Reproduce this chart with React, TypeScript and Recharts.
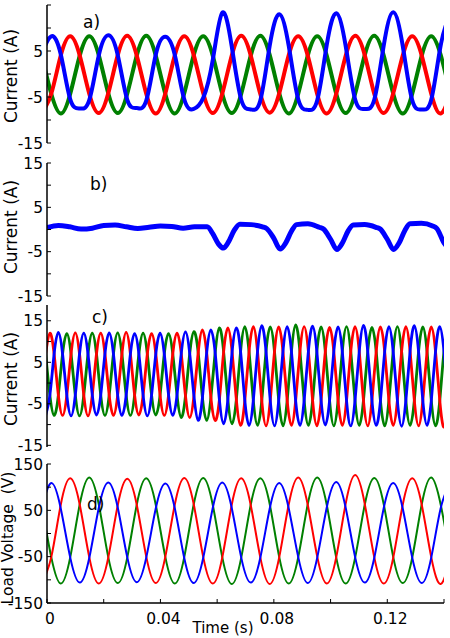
import React from 'react';
import { LineChart, Line, XAxis, YAxis } from 'recharts';

const FONT = '"DejaVu Sans", sans-serif';
const BLUE = '#0000ff';
const RED = '#ff0000';
const GREEN = '#008000';

// shared x axis
const xTicks = [0, 0.02, 0.04, 0.06, 0.08, 0.1, 0.12, 0.14];
const xLabelTicks = [0, 0.04, 0.08, 0.12];
const currentTicks = [-15, -10, -5, 0, 5, 10, 15];
const currentLabelsA = [-15, -5, 5];
const currentLabels = [-15, -5, 5, 15];
const voltageTicks = [-150, -100, -50, 0, 50, 100, 150];
const voltageLabels = [-150, -50, 50, 150];

// 50 Hz sample instants (panels a and d)
const time50 = [-0.00185, 0.0015, 0.00485, 0.0082, 0.01155, 0.0149, 0.01825, 0.0216, 0.02495, 0.0283, 0.03165, 0.035, 0.03835, 0.0417, 0.04505, 0.0484, 0.05175, 0.0551, 0.05845, 0.0618, 0.06515, 0.0685, 0.07185, 0.0752, 0.07855, 0.0819, 0.08525, 0.0886, 0.09195, 0.0953, 0.09865, 0.102, 0.10535, 0.1087, 0.11205, 0.1154, 0.11875, 0.1221, 0.12545, 0.1288, 0.13215, 0.1355, 0.13885, 0.1422];

// panel a currents (A)
const aBlue = [4.4, 8.2, 4.3, -5.5, -7.5, -5.7, 4.0, 8.4, 4.1, -5.6, -7.4, -5.8, 4.2, 8.1, 4.2, -5.5, -7.6, -5.2, 3.0, 13.3, 6.0, -5.6, -7.7, -5.8, 6.2, 13.0, 6.1, -5.5, -7.8, -5.7, 6.3, 13.2, 6.0, -5.6, -7.6, -5.6, 6.2, 13.4, 6.1, -5.7, -7.7, -5.6, 6.3, 13.1];
const aRed = [-8.5, -4.3, 4.0, 8.2, 4.0, -4.3, -8.5, -4.2, 4.1, 8.3, 4.0, -4.3, -8.6, -4.3, 4.0, 8.2, 4.1, -4.2, -8.5, -4.3, 4.0, 8.3, 4.0, -4.3, -8.4, -4.2, 4.1, 8.2, 4.0, -4.4, -8.6, -4.3, 4.0, 8.3, 4.1, -4.3, -8.5, -4.2, 4.0, 8.2, 4.0, -4.3, -8.6, -4.3];
const aGreen = [4.0, -4.3, -8.6, -4.3, 4.0, 8.2, 4.1, -4.2, -8.5, -4.3, 4.0, 8.3, 4.0, -4.3, -8.6, -4.2, 4.1, 8.2, 4.0, -4.3, -8.5, -4.3, 4.0, 8.3, 4.1, -4.2, -8.6, -4.3, 4.0, 8.2, 4.0, -4.3, -8.5, -4.2, 4.1, 8.3, 4.0, -4.3, -8.6, -4.3, 4.0, 8.2, 4.1, -4.2];

// panel b current (A)
const bTime = [0, 0.004, 0.008, 0.012, 0.016, 0.02, 0.024, 0.028, 0.032, 0.036, 0.04, 0.044, 0.048, 0.052, 0.0565, 0.0585, 0.0605, 0.0622, 0.064, 0.066, 0.068, 0.072, 0.076, 0.0775, 0.08, 0.0822, 0.0842, 0.0862, 0.088, 0.092, 0.096, 0.0975, 0.1, 0.1022, 0.1042, 0.1062, 0.108, 0.112, 0.116, 0.1175, 0.12, 0.1222, 0.1242, 0.1262, 0.128, 0.132, 0.136, 0.1375, 0.14, 0.1422];
const bValue = [0.4, 0.9, 0.6, 0.1, 0.3, 0.9, 1.0, 0.6, 0.2, 0.5, 0.8, 0.7, 0.3, 0.6, 0.6, -1.0, -3.3, -4.2, -2.8, -0.2, 1.2, 1.1, 0.6, 0.2, -2.0, -4.4, -3.0, -0.4, 1.1, 1.3, 0.5, 0.1, -2.2, -4.5, -3.0, -0.3, 1.0, 1.1, 0.5, 0.1, -2.2, -4.5, -3.0, -0.2, 1.3, 1.4, 0.8, 0.2, -3.0, -4.5];

// panel c sample instants and currents (A)
const timeC = [-0.00048, 0.00101, 0.00251, 0.004, 0.00549, 0.00699, 0.00848, 0.00998, 0.01147, 0.01297, 0.01446, 0.01596, 0.01745, 0.01895, 0.02044, 0.02193, 0.02343, 0.02492, 0.02642, 0.02791, 0.02941, 0.0309, 0.0324, 0.03389, 0.03538, 0.03688, 0.03837, 0.03987, 0.04136, 0.04286, 0.04435, 0.04585, 0.04734, 0.04884, 0.05033, 0.05182, 0.05332, 0.05481, 0.05631, 0.0578, 0.0593, 0.06079, 0.06229, 0.06378, 0.06527, 0.06677, 0.06826, 0.06976, 0.07125, 0.07275, 0.07424, 0.07574, 0.07723, 0.07873, 0.08022, 0.08171, 0.08321, 0.0847, 0.0862, 0.08769, 0.08919, 0.09068, 0.09218, 0.09367, 0.09516, 0.09666, 0.09815, 0.09965, 0.10114, 0.10264, 0.10413, 0.10563, 0.10712, 0.10862, 0.11011, 0.1116, 0.1131, 0.11459, 0.11609, 0.11758, 0.11908, 0.12057, 0.12207, 0.12356, 0.12505, 0.12655, 0.12804, 0.12954, 0.13103, 0.13253, 0.13402, 0.13552, 0.13701, 0.13851, 0.14, 0.14149];
const cBlue = [-7.8, -2.9, 7.0, 12.2, 7.0, -2.9, -7.9, -2.9, 7.0, 12.0,
  7.0, -2.8, -7.7, -2.9, 7.1, 12.1, 7.0, -2.9, -7.8, -3.0,
  7.0, 11.9, 7.0, -2.9, -7.9, -2.9, 7.0, 12.0, 7.0, -2.8,
  -7.8, -2.9, 7.1, 12.3, 7.1, -3.1, -9.0, -3.5, 7.3, 12.8,
  7.3, -4.0, -9.8, -4.0, 7.5, 13.3, 7.6, -4.2, -10.2, -4.2,
  7.6, 13.8, 7.7, -4.2, -10.3, -4.2, 7.6, 13.6, 7.6, -4.3,
  -10.2, -4.2, 7.7, 13.7, 7.6, -4.2, -10.1, -4.2, 7.6, 13.5,
  7.6, -4.2, -10.3, -4.2, 7.6, 13.9, 7.7, -4.2, -10.2, -4.3,
  7.6, 13.6, 7.6, -4.2, -10.4, -4.2, 7.7, 13.8, 7.6, -4.2,
  -10.2, -4.2, 7.6, 13.6, 7.6, -4.2];
const cRed = [7.0, 12.0, 7.0, -2.9, -7.8, -2.9, 7.0, 12.1, 7.0, -2.9,
  -7.9, -2.9, 7.0, 12.0, 7.0, -2.9, -7.8, -2.9, 7.0, 12.2,
  7.0, -2.9, -7.7, -2.9, 7.0, 11.9, 7.0, -2.9, -7.8, -2.9,
  7.0, 12.0, 7.1, -3.1, -8.3, -3.1, 7.3, 12.8, 7.3, -3.5,
  -9.0, -4.0, 7.5, 13.3, 7.5, -4.0, -10.2, -4.2, 7.6, 13.6,
  7.6, -4.2, -10.3, -4.2, 7.6, 13.5, 7.6, -4.2, -10.2, -4.2,
  7.6, 13.6, 7.6, -4.2, -10.3, -4.2, 7.6, 13.4, 7.6, -4.2,
  -10.2, -4.2, 7.6, 13.6, 7.6, -4.2, -10.3, -4.2, 7.6, 13.5,
  7.6, -4.2, -10.2, -4.2, 7.6, 13.6, 7.6, -4.2, -10.3, -4.2,
  7.6, 13.5, 7.6, -4.2, -10.6, -4.3];
const cGreen = [7.0, -2.9, -7.8, -2.9, 7.0, 11.9, 7.0, -2.9, -7.9, -2.9,
  7.0, 12.0, 7.0, -2.9, -7.8, -2.9, 7.0, 12.1, 7.0, -2.9,
  -7.8, -2.9, 7.0, 12.0, 7.0, -2.9, -7.7, -2.9, 7.0, 11.9,
  7.0, -2.9, -8.3, -3.1, 7.1, 12.4, 7.3, -3.5, -9.0, -3.5,
  7.3, 13.3, 7.5, -4.0, -9.8, -4.0, 7.6, 13.6, 7.6, -4.2,
  -10.2, -4.2, 7.6, 13.5, 7.6, -4.2, -10.3, -4.2, 7.6, 14.0,
  7.7, -4.2, -10.2, -4.2, 7.6, 13.5, 7.6, -4.2, -10.3, -4.2,
  7.6, 13.6, 7.6, -4.2, -10.2, -4.2, 7.6, 13.4, 7.6, -4.2,
  -10.3, -4.2, 7.6, 13.6, 7.6, -4.2, -10.2, -4.2, 7.6, 13.5,
  7.6, -4.2, -10.3, -4.2, 7.6, 13.5];

// panel d load voltages (V)
const dBlue = [55, 109, 54, -52, -106, -53, 55, 110, 56, -51, -105, -52, 54, 108, 55, -53, -107, -52, 55, 110, 55, -52, -106, -53, 54, 109, 54, -51, -107, -52, 56, 111, 55, -52, -106, -53, 55, 109, 54, -52, -107, -52, 55, 110];
const dRed = [-108, -51, 62, 119, 62, -51, -108, -52, 61, 118, 62, -50, -107, -51, 62, 120, 63, -51, -108, -52, 62, 119, 61, -51, -109, -51, 63, 121, 62, -50, -108, -51, 65, 126, 64, -51, -108, -52, 62, 119, 62, -51, -109, -51];
const dGreen = [63, -51, -108, -51, 63, 121, 63, -51, -107, -52, 62, 119, 62, -50, -108, -51, 63, 120, 62, -51, -109, -52, 62, 119, 63, -51, -108, -51, 63, 121, 62, -52, -108, -51, 62, 120, 63, -51, -107, -52, 63, 121, 62, -51];

const rows3 = (time: number[], blue: number[], red: number[], green: number[]) =>
  time.map((t, i) => ({ t, blue: blue[i], red: red[i], green: green[i] }));

const dataA = rows3(time50, aBlue, aRed, aGreen);
const dataB = bTime.map((t, i) => ({ t, blue: bValue[i] }));
const dataC = rows3(timeC, cBlue, cRed, cGreen);
const dataD = rows3(time50, dBlue, dRed, dGreen);

const three = [
  { key: 'green', color: GREEN },
  { key: 'red', color: RED },
  { key: 'blue', color: BLUE },
];

const axisLine = { stroke: '#000', strokeWidth: 1.5 };
const tickLine = { stroke: '#000', strokeWidth: 1 };
const tickFont = { fontSize: 15.5, fill: '#000', fontFamily: FONT };

type PanelProps = {
  top: number;
  boxHeight: number;
  data: any[];
  lines: { key: string; color: string }[];
  yDomain: [number, number];
  yTicks: number[];
  yLabels: number[];
  strokeWidth: number;
  showXLabels?: boolean;
  lineType?: 'natural' | 'monotone';
};

function Panel(p: PanelProps) {
  const axisH = p.showXLabels ? 36 : 0;
  const mTop = 12;
  const mBottom = p.showXLabels ? 0 : 12;
  const height = mTop + p.boxHeight + axisH + mBottom;
  return (
    <div style={{ position: 'absolute', left: 0, top: p.top - mTop }}>
      <LineChart width={450} height={height} data={p.data} margin={{ top: mTop, right: 6, bottom: mBottom, left: 0 }}>
        <XAxis
          dataKey="t"
          type="number"
          domain={[0, 0.14]}
          ticks={xTicks}
          interval={0}
          allowDataOverflow
          height={axisH}
          tickSize={-4}
          tickMargin={14}
          axisLine={axisLine}
          tickLine={tickLine}
          tick={{ ...tickFont, dx: 3 }}
          tickFormatter={(v: number) =>
            p.showXLabels && xLabelTicks.some((l) => Math.abs(l - v) < 1e-9) ? String(v) : ''
          }
        />
        <XAxis
          xAxisId="top"
          orientation="top"
          type="number"
          domain={[0, 0.14]}
          ticks={xTicks}
          interval={0}
          allowDataOverflow
          height={0}
          tickSize={-4}
          axisLine={axisLine}
          tickLine={tickLine}
          tickFormatter={() => ''}
        />
        <YAxis
          type="number"
          domain={p.yDomain}
          ticks={p.yTicks}
          interval={0}
          allowDataOverflow
          width={47}
          tickSize={-4}
          tickMargin={8}
          axisLine={axisLine}
          tickLine={tickLine}
          tick={tickFont}
          tickFormatter={(v: number) => (p.yLabels.includes(v) ? String(v) : '')}
        />
        <YAxis
          yAxisId="right"
          orientation="right"
          type="number"
          domain={p.yDomain}
          ticks={p.yTicks}
          interval={0}
          allowDataOverflow
          width={0}
          tickSize={-4}
          axisLine={axisLine}
          tickLine={tickLine}
          tickFormatter={() => ''}
        />
        {p.lines.map((l) => (
          <Line
            key={l.key}
            dataKey={l.key}
            type={p.lineType || 'natural'}
            stroke={l.color}
            strokeWidth={p.strokeWidth}
            strokeLinejoin="round"
            dot={false}
            activeDot={false}
            isAnimationActive={false}
          />
        ))}
      </LineChart>
    </div>
  );
}

export default function App() {
  return (
    <div
      style={{
        position: 'absolute',
        left: 0,
        top: 0,
        width: 450,
        height: 638,
        overflow: 'hidden',
        background: '#fff',
        fontFamily: FONT,
      }}
    >
      <Panel top={5} boxHeight={138} data={dataA} lines={three} yDomain={[-15, 15]} yTicks={currentTicks} yLabels={currentLabelsA} strokeWidth={4} />
      <Panel top={163} boxHeight={133} data={dataB} lines={[{ key: 'blue', color: BLUE }]} yDomain={[-15, 15]} yTicks={currentTicks} yLabels={currentLabels} strokeWidth={5} lineType="monotone" />
      <Panel top={305} boxHeight={142} data={dataC} lines={three} yDomain={[-15.4, 18.8]} yTicks={currentTicks} yLabels={currentLabels} strokeWidth={2.8} />
      <Panel top={464} boxHeight={139} data={dataD} lines={three} yDomain={[-150, 150]} yTicks={voltageTicks} yLabels={voltageLabels} strokeWidth={2} showXLabels />
      <svg width={450} height={638} style={{ position: 'absolute', left: 0, top: 0, pointerEvents: 'none' }}>
        <g fontFamily={FONT} fill="#000">
          <text transform="translate(10.5,76) rotate(-90)" textAnchor="middle" dominantBaseline="central" fontSize={17}>Current (A)</text>
          <text transform="translate(10.5,227) rotate(-90)" textAnchor="middle" dominantBaseline="central" fontSize={17}>Current (A)</text>
          <text transform="translate(10.5,379) rotate(-90)" textAnchor="middle" dominantBaseline="central" fontSize={17}>Current (A)</text>
          <text transform="translate(8,538) rotate(-90)" textAnchor="middle" dominantBaseline="central" fontSize={15.5} style={{ whiteSpace: 'pre' }}>{'Load Voltage  (V)'}</text>
          <text x={83} y={28} fontSize={17}>a)</text>
          <text x={90} y={190} fontSize={17}>b)</text>
          <text x={92} y={323} fontSize={17}>c)</text>
          <text x={87} y={510} fontSize={17}>d)</text>
          <text x={223} y={633} textAnchor="middle" fontSize={15}>Time (s)</text>
        </g>
      </svg>
    </div>
  );
}
